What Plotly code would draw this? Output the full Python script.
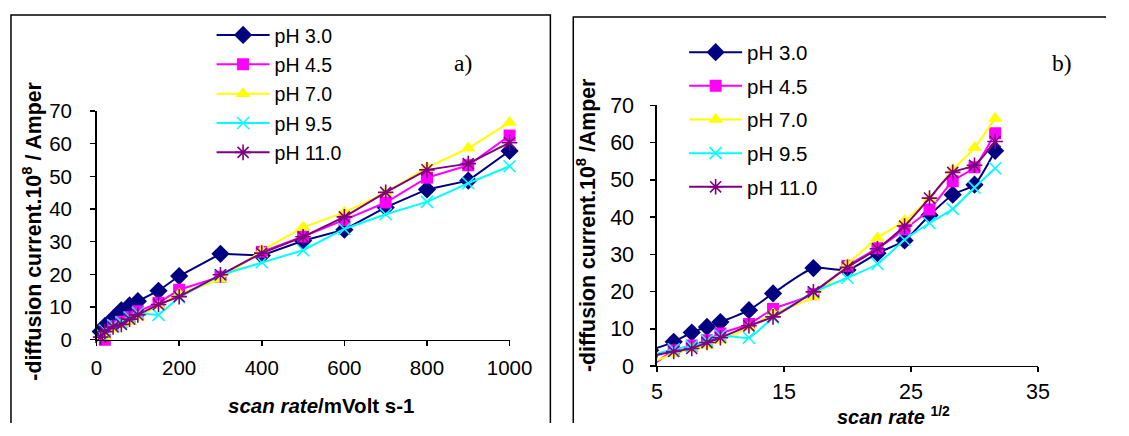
import numpy as np
import plotly.graph_objects as go

W, H = 1129, 436

scan_rate = [10, 20, 40, 60, 80, 100, 150, 200, 300, 400, 500, 600, 700, 800, 900, 1000]
ph30 = [2.5, 4.2, 6.5, 9.0, 10.5, 11.8, 15.0, 19.5, 26.3, 25.8, 30.3, 33.7, 40.5, 46.0, 48.7, 57.8]
ph45 = [-0.5, 0.0, 4.2, 5.5, 6.9, 8.7, 11.3, 15.3, 19.3, 26.9, 31.6, 36.7, 42.0, 49.6, 53.4, 62.5]
ph70 = [-0.5, 0.8, 3.3, 4.7, 5.5, 6.9, 10.4, 14.0, 18.5, 27.3, 34.4, 39.0, 45.0, 52.7, 58.6, 66.5]
ph95 = [1.8, 2.8, 4.5, 5.3, 6.8, 8.2, 7.6, 13.0, 19.8, 23.7, 27.4, 33.9, 38.4, 42.2, 47.9, 53.1]
ph110 = [0.8, 2.5, 3.9, 4.7, 6.3, 7.6, 10.8, 13.2, 19.9, 26.5, 31.5, 37.6, 45.1, 52.0, 53.9, 60.3]

series_names = ["pH 3.0", "pH 4.5", "pH 7.0", "pH 9.5", "pH 11.0"]
series_vals = [ph30, ph45, ph70, ph95, ph110]
colors = ["#000080", "#FF00FF", "#FFFF00", "#00FFFF", "#800080"]
symbols = ["diamond", "square", "triangle-up", "x-thin-open", "asterisk-open"]
sizes = [14, 12, 13, 12, 13]

sqrt_rate = np.sqrt(np.array(scan_rate, dtype=float))

FONT = "Liberation Sans, Arial, sans-serif"
SERIF = "Liberation Serif, Times New Roman, serif"

# calibration: visible pixel = s * page pixel + o
SX, OX, SY, OY = 0.979, 3.0, 0.952, 10.0


def px(x):
    return ((x - OX) / SX) / W


def py(y):
    return 1 - ((y - OY) / SY) / H


fig = go.Figure()

for i, (name, vals) in enumerate(zip(series_names, series_vals)):
    mk = dict(symbol=symbols[i], size=sizes[i], color=colors[i],
              line=dict(color=colors[i], width=1.6 if i >= 3 else 0))
    fig.add_trace(go.Scatter(
        x=scan_rate, y=vals, name=name, mode="lines+markers",
        line=dict(color=colors[i], width=2), marker=mk,
        xaxis="x", yaxis="y", legend="legend", legendgroup="a%d" % i,
        cliponaxis=False))
for i, (name, vals) in enumerate(zip(series_names, series_vals)):
    mk = dict(symbol=symbols[i], size=sizes[i], color=colors[i],
              line=dict(color=colors[i], width=1.6 if i >= 3 else 0))
    fig.add_trace(go.Scatter(
        x=sqrt_rate, y=vals, name=name, mode="lines+markers",
        line=dict(color=colors[i], width=2, shape="spline", smoothing=0.6), marker=mk,
        xaxis="x2", yaxis="y2", legend="legend2", legendgroup="b%d" % i,
        cliponaxis=True))


def axis_common(fs, standoff):
    return dict(showline=True, linecolor="black", linewidth=1.5, ticks="outside",
                ticklen=5, tickwidth=1.5, tickcolor="black", showgrid=False,
                zeroline=False, ticklabelstandoff=standoff,
                tickfont=dict(family=FONT, size=fs, color="black"))


fig.update_layout(
    width=W, height=H, autosize=False,
    margin=dict(l=0, r=0, t=0, b=0),
    paper_bgcolor="white", plot_bgcolor="rgba(0,0,0,0)",
    showlegend=True,
    xaxis=dict(domain=[px(94), px(509)], range=[0, 1000], tickvals=[0, 200, 400, 600, 800, 1000],
               anchor="y", **axis_common(20.5, 4)),
    yaxis=dict(domain=[py(341), py(110)], range=[0, 70], tickvals=list(range(0, 71, 10)),
               anchor="x", **axis_common(20.5, 14)),
    xaxis2=dict(domain=[px(657), px(1040)], range=[5, 35], tickvals=[5, 15, 25, 35],
                anchor="y2", **axis_common(21.5, 1)),
    yaxis2=dict(domain=[py(367.5), py(104.3)], range=[0, 70], tickvals=list(range(0, 71, 10)),
                anchor="x2", **axis_common(21.5, 12)),
    legend=dict(x=211 / W, y=1 - 4 / H, xanchor="left", yanchor="top",
                font=dict(family=FONT, size=19.5, color="black"), bgcolor="rgba(0,0,0,0)",
                itemwidth=53, tracegroupgap=1, traceorder="grouped"),
    legend2=dict(x=696 / W, y=1 - 21.6 / H, xanchor="left", yanchor="top",
                 font=dict(family=FONT, size=20.5, color="black"), bgcolor="rgba(0,0,0,0)",
                 itemwidth=53, tracegroupgap=4, traceorder="grouped"),
    hovermode=False,
)

# panel frames (open at the image edges)
fig.add_shape(type="path", xref="paper", yref="paper",
              path="M %.5f,0 L %.5f,%.5f L %.5f,%.5f L %.5f,0" % (px(8), px(8), py(13), px(550), py(13), px(550)),
              line=dict(color="black", width=1.5), layer="below")
fig.add_shape(type="path", xref="paper", yref="paper",
              path="M %.5f,0 L %.5f,%.5f L 1,%.5f" % (px(573), px(573), py(15), py(15)),
              line=dict(color="black", width=1.5), layer="below")

ann = []
ann.append(dict(text="a)", x=px(462), y=py(62), font=dict(family=SERIF, size=23.5, color="black")))
ann.append(dict(text="b)", x=px(1064), y=py(62), font=dict(family=SERIF, size=23.5, color="black")))
ann.append(dict(text="<b>-diffusion current.10<sup>8</sup> / Amper</b>", x=px(30), y=py(231), textangle=-90,
                font=dict(family=FONT, size=21.3, color="black")))
ann.append(dict(text="<b>-diffusion current.10<sup>8</sup> /Amper</b>", x=px(587), y=py(226), textangle=-90,
                font=dict(family=FONT, size=21.3, color="black")))
ann.append(dict(text="<b><i>scan rate</i>/mVolt s-1</b>", x=px(320), y=py(407),
                font=dict(family=FONT, size=20.5, color="black")))
ann.append(dict(text="<b><i>scan rate</i> <sup>1/2</sup></b>", x=px(895), y=1 - 428 / H,
                font=dict(family=FONT, size=20, color="black")))
for a in ann:
    a.update(xref="paper", yref="paper", showarrow=False, xanchor="center", yanchor="middle")
fig.update_layout(annotations=ann)

fig.write_html("out.html", config={"displayModeBar": False, "staticPlot": True},
               post_script="document.body.style.margin='0';document.body.style.overflow='hidden';")
